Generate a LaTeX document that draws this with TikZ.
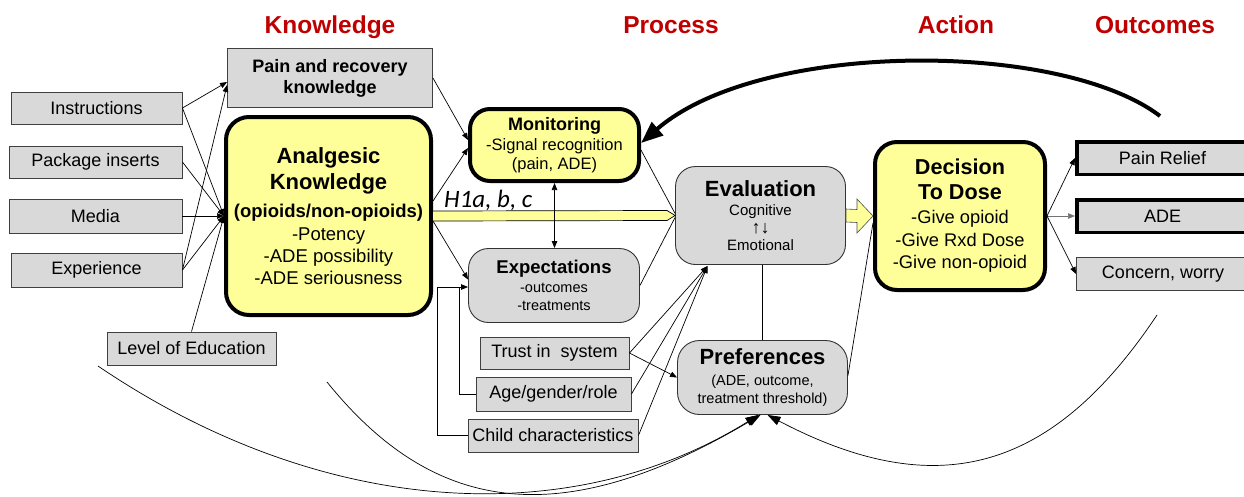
\documentclass[tikz,border=0pt]{standalone}
\usepackage{fontspec}
\setmainfont{Liberation Sans}
\newfontfamily\calibfont{Carlito}
\usetikzlibrary{arrows.meta}
\definecolor{yel}{HTML}{FFFF99}
\definecolor{gry}{HTML}{D9D9D9}
\definecolor{ttl}{HTML}{C00000}
\newcommand\fsz[2]{\fontsize{#1}{#2}\selectfont}
\begin{document}
\begin{tikzpicture}[x=1pt,y=-1pt,
  sz/.style 2 args={minimum width=#1pt, minimum height=#2pt},
  gbox/.style={draw=black!75, line width=0.9pt, fill=gry, inner sep=0pt, align=center, font=\fsz{18}{21}},
  ybox/.style={draw=black, line width=4pt, fill=yel, rounded corners=22pt, inner sep=0pt, align=center},
  rbox/.style={draw=black!80, line width=0.9pt, fill=gry, rounded corners=20pt, inner sep=0pt, align=center},
  obox/.style={draw=black, line width=3.5pt, fill=gry, inner sep=0pt, align=center, font=\fsz{18}{21}},
  ttlnode/.style={text=ttl, font=\fsz{24.5}{28}\bfseries, anchor=base},
  ln/.style={line width=0.7pt},
  con/.style={line width=0.7pt, -{Triangle[length=7pt,width=5.5pt]}},
  bicon/.style={line width=0.7pt, {Triangle[length=7pt,width=5.5pt]}-{Triangle[length=7pt,width=5.5pt]}},
  curv/.style={line width=0.7pt, -{Triangle[length=13pt,width=9pt]}},
]
\useasboundingbox (0,0) rectangle (1244,496);
\clip (0,0) rectangle (1244,496);

% titles
\node[ttlnode] (tK) at (330,33) {Knowledge};
\node[ttlnode] (tP) at (671,33) {Process};
\node[ttlnode] (tA) at (956,33) {Action};
\node[ttlnode] (tO) at (1155,33) {Outcomes};

% left inputs
\node[gbox, sz={171}{32}] (instr) at (96.5,108) {Instructions};
\node[gbox, sz={173}{32}] (pack) at (95.5,162) {Package inserts};
\node[gbox, sz={173}{34}] (media) at (95.5,216) {Media};
\node[gbox, sz={171}{34}] (exper) at (96.5,270) {Experience};
\node[gbox, sz={169}{33}] (educ) at (191.5,348.5) {Level of Education};

\node[gbox, sz={205}{59}, font=\fsz{18}{21}\bfseries] (painrec) at (330,78) {Pain and recovery\\knowledge};

\node[ybox, sz={205}{198}, rounded corners=23pt, font=\fsz{18.5}{22}] (analg) at (328.5,216)
  {\fsz{22}{22}\bfseries Analgesic\\[4pt]\fsz{22}{22}\bfseries Knowledge\\[6pt]\bfseries (opioids/non-opioids)\\[0.5pt]-Potency\\-ADE possibility\\-ADE seriousness};

% process
\node[ybox, sz={169}{72}, rounded corners=20pt, font=\fsz{16.5}{19.5}] (monit) at (554.5,145)
  {\fsz{18}{19.5}\bfseries Monitoring\\[0.5pt]-Signal recognition\\(pain, ADE)};

\node[rbox, sz={171}{74}, font=\fsz{14.5}{18.2}] (expect) at (554,285.5)
  {\fsz{18.5}{18.2}\bfseries Expectations\\-outcomes\\-treatments};

\node[rbox, sz={170}{98}, font=\fsz{15}{17.5}] (evalu) at (760.5,215.5)
  {\fsz{22}{17.5}\bfseries Evaluation\\[2.2pt]Cognitive\\\fsz{18}{17.5}↑↓\\Emotional};

\node[rbox, sz={170}{74}, rounded corners=22pt, font=\fsz{14.5}{17.6}] (prefs) at (762.5,377.5)
  {\fsz{22}{17.6}\bfseries Preferences\\[4pt](ADE, outcome,\\treatment threshold)};

\node[gbox, sz={149}{32}] (trust) at (554.5,353) {Trust in\ \ system};
\node[gbox, sz={155}{34}] (age) at (553.5,394) {Age/gender/role};
\node[gbox, sz={170}{33}] (child) at (553,435.5) {Child characteristics};

% action
\node[ybox, sz={170}{148}, font=\fsz{18.3}{22.5}] (decis) at (960,216)
  {\fsz{21.6}{22.5}\bfseries Decision\\[2.5pt]\fsz{21.6}{22.5}\bfseries To Dose\\[1.5pt]-Give opioid\\-Give Rxd Dose\\-Give non-opioid};

% outcomes
\node[obox, sz={171.5}{32.5}] (relief) at (1162.5,158) {Pain Relief};
\node[obox, sz={171.5}{32.5}] (ade) at (1162.5,216) {ADE};
\node[gbox, sz={173}{33}] (concern) at (1163,274) {Concern, worry};

% H1 arrow
\fill[yel] ([yshift=5pt]analg.east) -- ([xshift=-8pt,yshift=5pt]evalu.west) -- (evalu.west)
   -- ([xshift=-8pt,yshift=-5pt]evalu.west) -- ([yshift=-5pt]analg.east) -- cycle;
\draw[ln] ([yshift=5pt]analg.east) -- ([xshift=-8pt,yshift=5pt]evalu.west) -- (evalu.west)
   -- ([xshift=-8pt,yshift=-5pt]evalu.west) -- ([yshift=-5pt]analg.east);
\node[anchor=base west, inner sep=0pt, font=\calibfont\itshape\fsz{25}{28}] (h1) at (444,207) {H1a, b, c};

% block arrow Evaluation -> Decision
\filldraw[fill=yel, draw=black!70, line width=0.6pt]
  ([yshift=6.5pt]evalu.east) -- ([xshift=-16pt,yshift=6.5pt]decis.west)
  -- ([xshift=-16pt,yshift=17pt]decis.west) -- (decis.west)
  -- ([xshift=-16pt,yshift=-17pt]decis.west) -- ([xshift=-16pt,yshift=-6.5pt]decis.west)
  -- ([yshift=-6.5pt]evalu.east) -- cycle;

% knowledge connectors
\draw[con] (instr.east) -- ([yshift=-4pt]painrec.west);
\draw[con] (exper.east) -- ([yshift=-7pt]painrec.west);
\draw[con] (instr.east) -- (analg.west);
\draw[con] (pack.east) -- (analg.west);
\draw[con] (media.east) -- (analg.west);
\draw[con] (exper.east) -- (analg.west);
\draw[con] (educ.north) -- (analg.west);

\draw[con] (painrec.east) -- ([yshift=5pt]monit.west);
\draw[con] ([yshift=15pt]analg.east) -- ([yshift=-3pt]monit.west);
\draw[con] ([yshift=-5pt]analg.east) -- ([yshift=6pt]expect.west);

\draw[bicon] (monit.south) -- (monit.south |- expect.north);
\draw[ln] ([yshift=-5pt]monit.east) -- ([yshift=2pt]evalu.west);
\draw[ln] (expect.east) -- ([yshift=-2pt]evalu.west);
\draw[ln] (evalu.south -| prefs.north) -- (prefs.north);

\coordinate (jA) at (459,287);
\coordinate (jC) at (437,287);
\draw[ln] (age.west) -| (jA);
\draw[con] (child.west) -| (jC) -- (expect.west |- jC);

\coordinate (evin) at (707.5,266);
\draw[con] (trust.east) -- (evin);
\draw[con] (age.east) -- (evin);
\draw[con] (child.east) -- (evin);
\draw[con] (trust.east) -- (prefs.west);
\draw[ln] ([yshift=2pt]prefs.east) -- ([yshift=-7pt]decis.west);

% decision -> outcomes
\draw[con] (decis.east) -- (relief.west);
\draw[con, draw=black!55, fill=black!55] (decis.east) -- (ade.west);
\draw[con] (decis.east) -- (concern.west);

% big feedback arc
\coordinate (arcS) at (1160,116);
\draw[line width=4pt, -{Triangle[length=22pt,width=17pt]}] (arcS) .. controls (1060,40) and (760,40) .. ([yshift=2pt]monit.east);

% bottom curves
\coordinate (c1s) at (98,366);
\coordinate (c2s) at (327,382);
\coordinate (c3s) at (1157,315);
\draw[curv] (c1s) .. controls (325,520) and (573.7,530) .. ([xshift=-4pt]prefs.south);
\draw[curv] (c2s) .. controls (434,514.6) and (560.8,533) .. ([xshift=-2pt]prefs.south);
\draw[curv] (c3s) .. controls (1051.6,473) and (936,503.5) .. ([xshift=5pt]prefs.south);
\end{tikzpicture}
\end{document}
